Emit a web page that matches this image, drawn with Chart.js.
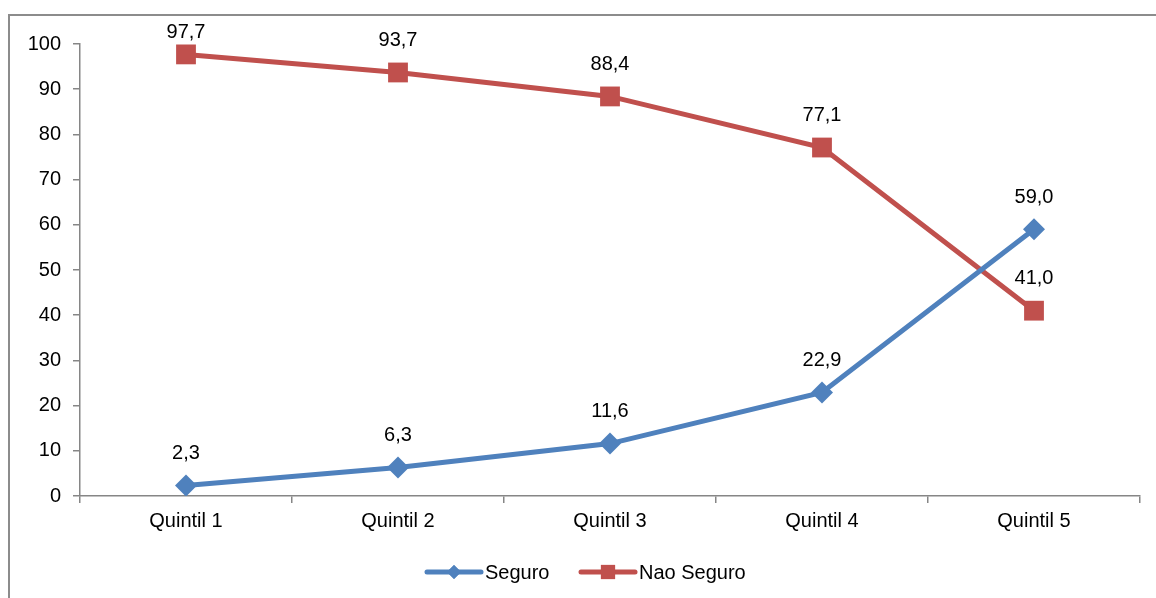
<!DOCTYPE html>
<html>
<head>
<meta charset="utf-8">
<script src="https://cdn.jsdelivr.net/npm/chart.js@4/dist/chart.umd.min.js"></script>
<style>
  html, body { margin: 0; padding: 0; background: #fff; }
  #wrap { position: relative; width: 1156px; height: 598px; overflow: hidden; }
  #frame { position: absolute; left: 8px; top: 14px; width: 1200px; height: 700px;
           border-left: 2px solid #8c8c8c; border-top: 2px solid #8c8c8c; }
  canvas { position: absolute; left: 0; top: 0; }
</style>
</head>
<body>
<div id="wrap">
  <div id="frame"></div>
  <canvas id="chart" width="1156" height="598"></canvas>
</div>
<script>
// data
const categories = ['Quintil 1', 'Quintil 2', 'Quintil 3', 'Quintil 4', 'Quintil 5'];
const seguro = [2.3, 6.3, 11.6, 22.9, 59.0];
const naoSeguro = [97.7, 93.7, 88.4, 77.1, 41.0];
const yTicks = [0, 10, 20, 30, 40, 50, 60, 70, 80, 90, 100];

const BLUE = '#4F81BD';
const RED = '#C0504D';
const AXIS = '#868686';
const FONT = '"Liberation Sans", Arial, sans-serif';

// value labels above each point
const valueLabels = {
    id: 'valueLabels',
    afterDatasetsDraw(chart) {
        const ctx = chart.ctx;
        ctx.save();
        ctx.font = '20px ' + FONT;
        ctx.fillStyle = '#000';
        ctx.textAlign = 'center';
        ctx.textBaseline = 'middle';
        chart.data.datasets.forEach((ds, i) => {
            chart.getDatasetMeta(i).data.forEach((pt, j) => {
                let y = Math.max(pt.y - 32, 32);
                ctx.fillText(ds.data[j].toFixed(1).replace('.', ','), pt.x, y);
            });
        });
        ctx.restore();
    }
};

// excel style legend: line sample with marker in the middle
const lineLegend = {
    id: 'lineLegend',
    afterDraw(chart) {
        const ctx = chart.ctx;
        const items = [
            { text: 'Seguro', color: BLUE, shape: 'rectRot', r: 7, x: 427 },
            { text: 'Nao Seguro', color: RED, shape: 'rect', r: 10, x: 581 }
        ];
        const y = 572;
        ctx.save();
        ctx.font = '20px ' + FONT;
        ctx.textBaseline = 'middle';
        items.forEach(it => {
            ctx.strokeStyle = it.color;
            ctx.lineWidth = 5;
            ctx.lineCap = 'round';
            ctx.beginPath();
            ctx.moveTo(it.x, y);
            ctx.lineTo(it.x + 54, y);
            ctx.stroke();
            ctx.fillStyle = it.color;
            Chart.helpers.drawPoint(ctx, { pointStyle: it.shape, radius: it.r, borderWidth: 0 }, it.x + 27, y);
            ctx.fill();
            ctx.fillStyle = '#000';
            ctx.fillText(it.text, it.x + 58, y + 1);
        });
        ctx.restore();
    }
};

new Chart(document.getElementById('chart').getContext('2d'), {
    type: 'line',
    data: {
        labels: categories,
        datasets: [{
            label: 'Seguro',
            data: seguro,
            borderColor: BLUE,
            backgroundColor: BLUE,
            borderWidth: 5,
            pointStyle: 'rectRot',
            pointRadius: 11,
            pointBorderWidth: 0,
            pointHoverRadius: 11
        }, {
            label: 'Nao Seguro',
            data: naoSeguro,
            borderColor: RED,
            backgroundColor: RED,
            borderWidth: 5,
            pointStyle: 'rect',
            pointRadius: 14,
            pointBorderWidth: 0,
            pointHoverRadius: 14
        }]
    },
    options: {
        responsive: false,
        animation: false,
        layout: { padding: { top: 44, right: 16, left: 0, bottom: 0 } },
        plugins: {
            legend: { display: false },
            tooltip: { enabled: false }
        },
        scales: {
            x: {
                offset: true,
                grid: { offset: true, drawOnChartArea: false, drawTicks: true, tickLength: 7, color: AXIS, lineWidth: 1.5 },
                border: { display: true, color: AXIS, width: 1.5 },
                ticks: { color: '#000', font: { size: 20, family: FONT }, padding: 6 },
                afterFit(scale) { scale.height = 102; }
            },
            y: {
                min: 0,
                max: 100,
                afterBuildTicks(scale) { scale.ticks = yTicks.map(v => ({ value: v })); },
                grid: { drawOnChartArea: false, drawTicks: true, tickLength: 7, color: AXIS, lineWidth: 1.5 },
                border: { display: true, color: AXIS, width: 1.5 },
                ticks: { color: '#000', font: { size: 20, family: FONT }, padding: 12 },
                afterFit(scale) { scale.width = 80; }
            }
        }
    },
    plugins: [valueLabels, lineLegend]
});
</script>
</body>
</html>
